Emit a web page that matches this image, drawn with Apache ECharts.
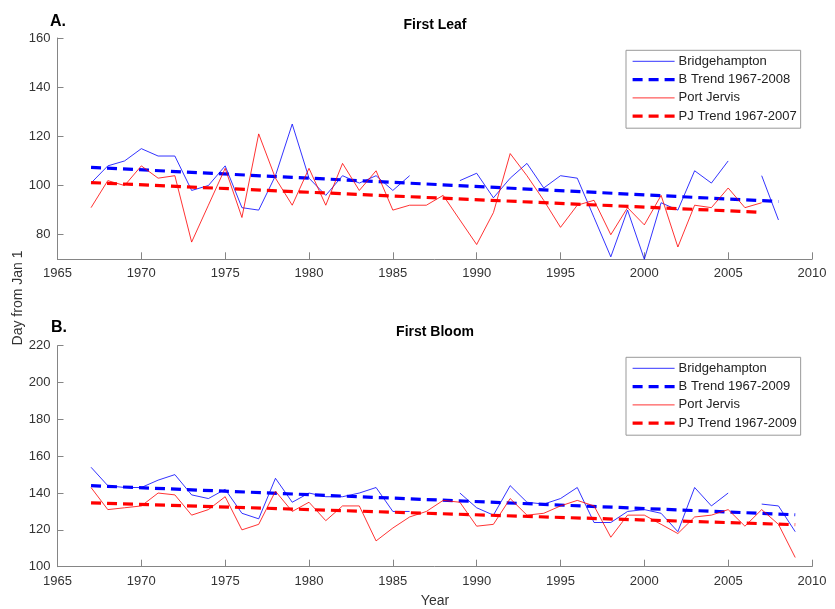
<!DOCTYPE html>
<html>
<head>
<meta charset="utf-8">
<script src="https://cdn.jsdelivr.net/npm/echarts@6/dist/echarts.min.js"></script>
<style>
  html, body { margin: 0; padding: 0; background: #fff; }
  #chart { width: 835px; height: 609px; }
</style>
</head>
<body>
<div id="chart"></div>
<script>
// Day of year of first leaf and first bloom, 1967-2009
const leafYears = [1967,1968,1969,1970,1971,1972,1973,1974,1975,1976,1977,1978,1979,1980,1981,1982,1983,1984,1985,1986,1987,1988,1989,1990,1991,1992,1993,1994,1995,1996,1997,1998,1999,2000,2001,2002,2003,2004,2005,2006,2007,2008];
const leafBridge = [101,108,110,115,112,112,98,100,108,91,90,104,125,103,96,104,101,104,98,104,null,null,102,105,95,103,109,99,104,103,87,71,90,70,93,90,106,101,110,null,104,86];
const leafPJ = [91,102,100,108,103,104,77,92,107,87,121,103,92,107,92,109,98,106,90,92,92,96,86,76,89,113,104,94,83,92,94,80,91,84,96,75,92,91,99,91,93];

const bloomYears = [1967,1968,1969,1970,1971,1972,1973,1974,1975,1976,1977,1978,1979,1980,1981,1982,1983,1984,1985,1986,1987,1988,1989,1990,1991,1992,1993,1994,1995,1996,1997,1998,1999,2000,2001,2002,2003,2004,2005,2006,2007,2008,2009];
const bloomBridge = [154,144,143,143,147,150,139,137,142,129,126,148,135,140,138,138,140,143,130,130,null,null,140,132,128,144,135,134,137,143,124,124,130,131,129,119,143,133,140,null,134,133,119];
const bloomPJ = [143,131,132,133,140,139,128,131,138,120,123,141,130,135,125,133,133,114,121,127,130,136,135,122,123,137,128,129,133,136,133,116,128,128,123,118,127,128,131,122,131,123,105];

// Linear trend end points [year, day]
const leafBTrend = [[1967, 107.4], [2008, 93.5]];
const leafPJTrend = [[1967, 101.2], [2007, 89.1]];
const bloomBTrend = [[1967, 144.0], [2009, 128.2]];
const bloomPJTrend = [[1967, 134.7], [2009, 122.8]];

const xTicks = [1965, 1970, 1975, 1980, 1985, 1990, 1995, 2000, 2005, 2010];
const leafTicks = [80, 100, 120, 140, 160];
const bloomTicks = [100, 120, 140, 160, 180, 200, 220];

const leafLegend = ['Bridgehampton', 'B Trend 1967-2008', 'Port Jervis', 'PJ Trend 1967-2007'];
const bloomLegend = ['Bridgehampton', 'B Trend 1967-2009', 'Port Jervis', 'PJ Trend 1967-2009'];

const FONT = 'Liberation Sans, Arial, Helvetica, sans-serif';
const BLUE = '#0000ff';
const RED = '#ff0000';

function pairs(years, vals) {
  return vals.map((v, i) => [years[i], v]);
}

function xAxisFor(gridIndex) {
  return {
    type: 'value', gridIndex, min: 1965, max: 2010, interval: 5,
    axisLine: { show: true, lineStyle: { color: '#858585', width: 1 } },
    axisTick: { show: true, inside: true, length: 7, lineStyle: { color: '#858585' } },
    axisLabel: { color: '#333', fontSize: 13, fontFamily: FONT, margin: 8,
      customValues: xTicks, formatter: v => String(v) },
    splitLine: { show: false }
  };
}

function yAxisFor(gridIndex, min, max, ticks) {
  return {
    type: 'value', gridIndex, min, max,
    axisLine: { show: true, lineStyle: { color: '#858585', width: 1 } },
    axisTick: { show: true, inside: true, length: 6, customValues: ticks, lineStyle: { color: '#858585' } },
    axisLabel: { color: '#333', fontSize: 13, fontFamily: FONT, margin: 7, customValues: ticks },
    splitLine: { show: false }
  };
}

function dataSeries(name, idx, data, color) {
  return {
    name, type: 'line', xAxisIndex: idx, yAxisIndex: idx, data,
    symbol: 'none', connectNulls: false, silent: true,
    lineStyle: { color, width: 1, opacity: 0.8 }, itemStyle: { color }
  };
}

function trendSeries(name, idx, data, color) {
  return {
    name, type: 'line', xAxisIndex: idx, yAxisIndex: idx, data,
    symbol: 'none', silent: true,
    lineStyle: { color, width: 3.2, type: [10, 6] }, itemStyle: { color }
  };
}

// Legend keys show only the line sample (no point marker)
function legendAt(top, names) {
  return {
    orient: 'vertical', left: 626, top,
    data: names,
    itemWidth: 42, itemHeight: 12, itemGap: 5.3,
    padding: [4.5, 4, 5.5, 5],
    borderColor: '#999', borderWidth: 1, backgroundColor: '#fff',
    selectedMode: false,
    itemStyle: { opacity: 0 },
    lineStyle: { width: 'inherit', opacity: 'inherit', type: 'inherit' },
    textStyle: { fontSize: 13, fontFamily: FONT, color: '#222', padding: [0, 0, 0, -1] }
  };
}

const chart = echarts.init(document.getElementById('chart'), null, { renderer: 'canvas' });

chart.setOption({
  animation: false,
  backgroundColor: '#fff',
  grid: [
    { left: 57.5, right: 23, top: 38, height: 221.3 },
    { left: 57.5, right: 23, top: 345.7, height: 221 }
  ],
  xAxis: [xAxisFor(0), xAxisFor(1)],
  yAxis: [yAxisFor(0, 70, 160, leafTicks), yAxisFor(1, 100, 220, bloomTicks)],
  legend: [legendAt(50.3, leafLegend), legendAt(357.3, bloomLegend)],
  series: [
    dataSeries(leafLegend[0], 0, pairs(leafYears, leafBridge), BLUE),
    trendSeries(leafLegend[1], 0, leafBTrend, BLUE),
    dataSeries(leafLegend[2], 0, pairs(leafYears, leafPJ), RED),
    trendSeries(leafLegend[3], 0, leafPJTrend, RED),
    dataSeries(bloomLegend[0], 1, pairs(bloomYears, bloomBridge), BLUE),
    trendSeries(bloomLegend[1], 1, bloomBTrend, BLUE),
    dataSeries(bloomLegend[2], 1, pairs(bloomYears, bloomPJ), RED),
    trendSeries(bloomLegend[3], 1, bloomPJTrend, RED)
  ],
  graphic: [
    { type: 'text', left: 50, top: 14, style: { text: 'A.', font: 'bold 16px ' + FONT, fill: '#000' } },
    { type: 'text', x: 435, y: 25, style: { text: 'First Leaf', font: 'bold 14px ' + FONT, fill: '#000', align: 'center', verticalAlign: 'middle' } },
    { type: 'text', left: 51, top: 320, style: { text: 'B.', font: 'bold 16px ' + FONT, fill: '#000' } },
    { type: 'text', x: 435, y: 332.5, style: { text: 'First Bloom', font: 'bold 14px ' + FONT, fill: '#000', align: 'center', verticalAlign: 'middle' } },
    { type: 'text', x: 435, y: 601, style: { text: 'Year', font: '14px ' + FONT, fill: '#333', align: 'center', verticalAlign: 'middle' } },
    { type: 'text', x: 18, y: 298, rotation: Math.PI / 2, style: { text: 'Day from Jan 1', font: '14px ' + FONT, fill: '#333', align: 'center', verticalAlign: 'middle' } }
  ]
});
</script>
</body>
</html>
